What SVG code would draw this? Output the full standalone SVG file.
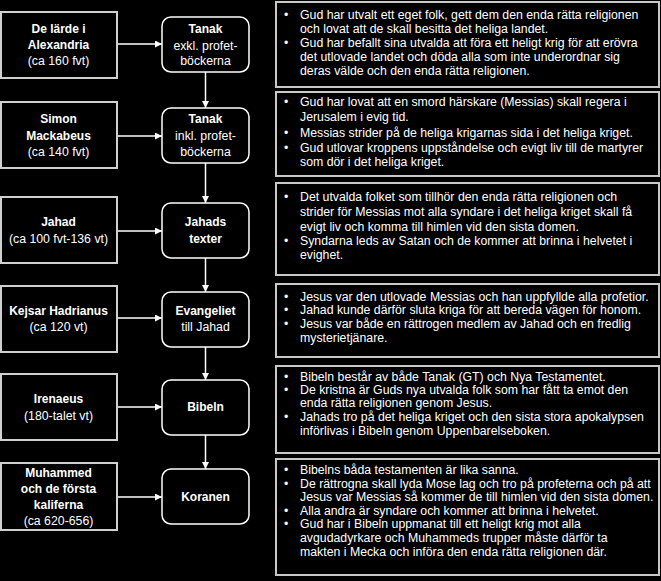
<svg xmlns="http://www.w3.org/2000/svg" width="661" height="581" viewBox="0 0 661 581">
<defs>
<marker id="ah" markerUnits="userSpaceOnUse" markerWidth="8" markerHeight="8" refX="7" refY="3.5" orient="auto">
<path d="M0,0 L7,3.5 L0,7 z" fill="#ffffff"/>
</marker>
<style>
.src{fill:#000;stroke:#d0d0d0;stroke-width:2}
.doc{fill:#000;stroke:#ffffff;stroke-width:1.5}
.info{fill:#000;stroke:#c8c8c8;stroke-width:2}
text{font-family:"Liberation Sans",Arial,sans-serif;fill:#ffffff}
.c{text-anchor:middle;font-size:12.3px}
.b{font-weight:bold;font-size:12px}
.t{font-size:12.3px}
.con{stroke:#ffffff;stroke-width:1.5;fill:none;marker-end:url(#ah)}
</style>
</defs>
<rect width="661" height="581" fill="#000"/>

<g id="connectors">
<line class="con" x1="117" y1="44" x2="162" y2="44"/>
<line class="con" x1="117" y1="136" x2="162" y2="136"/>
<line class="con" x1="117" y1="231" x2="162" y2="231"/>
<line class="con" x1="117" y1="318" x2="162" y2="318"/>
<line class="con" x1="117" y1="407" x2="162" y2="407"/>
<line class="con" x1="117" y1="497" x2="162" y2="497"/>
<line class="con" x1="205.5" y1="72" x2="205.5" y2="108"/>
<line class="con" x1="205.5" y1="163" x2="205.5" y2="203"/>
<line class="con" x1="205.5" y1="258" x2="205.5" y2="292"/>
<line class="con" x1="205.5" y1="347" x2="205.5" y2="380"/>
<line class="con" x1="205.5" y1="435" x2="205.5" y2="469"/>
</g>

<g id="src-alexandria">
<rect class="src" x="1" y="12" width="116" height="66"/>
<text class="c b" x="58.5" y="33">De lärde i</text>
<text class="c b" x="58.5" y="49">Alexandria</text>
<text class="c" x="58.5" y="65">(ca 160 fvt)</text>
</g>
<g id="src-simon">
<rect class="src" x="1" y="102" width="116" height="66"/>
<text class="c b" x="58.5" y="123">Simon</text>
<text class="c b" x="58.5" y="140">Mackabeus</text>
<text class="c" x="58.5" y="156">(ca 140 fvt)</text>
</g>
<g id="src-jahad">
<rect class="src" x="1" y="197" width="116" height="66"/>
<text class="c b" x="58.5" y="226">Jahad</text>
<text class="c" x="58.5" y="243">(ca 100 fvt-136 vt)</text>
</g>
<g id="src-hadrianus">
<rect class="src" x="1" y="286" width="116" height="66"/>
<text class="c b" x="58.5" y="315">Kejsar Hadrianus</text>
<text class="c" x="58.5" y="331">(ca 120 vt)</text>
</g>
<g id="src-irenaeus">
<rect class="src" x="1" y="374" width="116" height="66"/>
<text class="c b" x="58.5" y="403">Irenaeus</text>
<text class="c" x="58.5" y="420">(180-talet vt)</text>
</g>
<g id="src-muhammed">
<rect class="src" x="1" y="463" width="116" height="67"/>
<text class="c b" x="58.5" y="477">Muhammed</text>
<text class="c b" x="58.5" y="493">och de första</text>
<text class="c b" x="58.5" y="509">kaliferna</text>
<text class="c" x="58.5" y="525">(ca 620-656)</text>
</g>

<g id="doc-tanak1">
<rect class="doc" x="162" y="17" width="87" height="55" rx="9"/>
<text class="c b" x="205.5" y="33">Tanak</text>
<text class="c" x="205.5" y="50">exkl. profet-</text>
<text class="c" x="205.5" y="65">böckerna</text>
</g>
<g id="doc-tanak2">
<rect class="doc" x="162" y="108" width="87" height="55" rx="9"/>
<text class="c b" x="205.5" y="123">Tanak</text>
<text class="c" x="205.5" y="140">inkl. profet-</text>
<text class="c" x="205.5" y="156">böckerna</text>
</g>
<g id="doc-jahads">
<rect class="doc" x="162" y="203" width="87" height="55" rx="9"/>
<text class="c b" x="205.5" y="226">Jahads</text>
<text class="c b" x="205.5" y="243">texter</text>
</g>
<g id="doc-evangeliet">
<rect class="doc" x="162" y="292" width="87" height="55" rx="9"/>
<text class="c b" x="205.5" y="315">Evangeliet</text>
<text class="c" x="205.5" y="331">till Jahad</text>
</g>
<g id="doc-bibeln">
<rect class="doc" x="162" y="380" width="87" height="55" rx="9"/>
<text class="c b" x="205.5" y="411">Bibeln</text>
</g>
<g id="doc-koranen">
<rect class="doc" x="162" y="469" width="87" height="55" rx="9"/>
<text class="c b" x="205.5" y="501">Koranen</text>
</g>

<g id="info-1">
<rect class="info" x="276" y="2" width="383" height="85"/>
<text class="t" x="284" y="19">•</text>
<text class="t" x="300" y="19">Gud har utvalt ett eget folk, gett dem den enda rätta religionen</text>
<text class="t" x="300" y="33">och lovat att de skall besitta det heliga landet.</text>
<text class="t" x="284" y="47">•</text>
<text class="t" x="300" y="47">Gud har befallt sina utvalda att föra ett heligt krig för att erövra</text>
<text class="t" x="300" y="61">det utlovade landet och döda alla som inte underordnar sig</text>
<text class="t" x="300" y="75">deras välde och den enda rätta religionen.</text>
</g>
<g id="info-2">
<rect class="info" x="276" y="92" width="383" height="84"/>
<text class="t" x="284" y="106">•</text>
<text class="t" x="300" y="106">Gud har lovat att en smord härskare (Messias) skall regera i</text>
<text class="t" x="300" y="121">Jerusalem i evig tid.</text>
<text class="t" x="284" y="137">•</text>
<text class="t" x="300" y="137">Messias strider på de heliga krigarnas sida i det heliga kriget.</text>
<text class="t" x="284" y="152">•</text>
<text class="t" x="300" y="152">Gud utlovar kroppens uppståndelse och evigt liv till de martyrer</text>
<text class="t" x="300" y="166">som dör i det heliga kriget.</text>
</g>
<g id="info-3">
<rect class="info" x="276" y="183" width="383" height="92"/>
<text class="t" x="284" y="201">•</text>
<text class="t" x="300" y="201">Det utvalda folket som tillhör den enda rätta religionen och</text>
<text class="t" x="300" y="216">strider för Messias mot alla syndare i det heliga kriget skall få</text>
<text class="t" x="300" y="231">evigt liv och komma till himlen vid den sista domen.</text>
<text class="t" x="284" y="245">•</text>
<text class="t" x="300" y="245">Syndarna leds av Satan och de kommer att brinna i helvetet i</text>
<text class="t" x="300" y="259">evighet.</text>
</g>
<g id="info-4">
<rect class="info" x="276" y="284" width="383" height="73"/>
<text class="t" x="284" y="301">•</text>
<text class="t" x="300" y="301">Jesus var den utlovade Messias och han uppfyllde alla profetior.</text>
<text class="t" x="284" y="314">•</text>
<text class="t" x="300" y="314">Jahad kunde därför sluta kriga för att bereda vägen för honom.</text>
<text class="t" x="284" y="328">•</text>
<text class="t" x="300" y="328">Jesus var både en rättrogen medlem av Jahad och en fredlig</text>
<text class="t" x="300" y="342">mysterietjänare.</text>
</g>
<g id="info-5">
<rect class="info" x="276" y="366" width="383" height="87"/>
<text class="t" x="284" y="381">•</text>
<text class="t" x="300" y="381">Bibeln består av både Tanak (GT) och Nya Testamentet.</text>
<text class="t" x="284" y="394">•</text>
<text class="t" x="300" y="394">De kristna är Guds nya utvalda folk som har fått ta emot den</text>
<text class="t" x="300" y="407">enda rätta religionen genom Jesus.</text>
<text class="t" x="284" y="421">•</text>
<text class="t" x="300" y="421">Jahads tro på det heliga kriget och den sista stora apokalypsen</text>
<text class="t" x="300" y="435">införlivas i Bibeln genom Uppenbarelseboken.</text>
</g>
<g id="info-6">
<rect class="info" x="276" y="459" width="383" height="116"/>
<text class="t" x="284" y="474">•</text>
<text class="t" x="300" y="474">Bibelns båda testamenten är lika sanna.</text>
<text class="t" x="284" y="488">•</text>
<text class="t" x="300" y="488">De rättrogna skall lyda Mose lag och tro på profeterna och på att</text>
<text class="t" x="300" y="501">Jesus var Messias så kommer de till himlen vid den sista domen.</text>
<text class="t" x="284" y="515">•</text>
<text class="t" x="300" y="515">Alla andra är syndare och kommer att brinna i helvetet.</text>
<text class="t" x="284" y="528">•</text>
<text class="t" x="300" y="528">Gud har i Bibeln uppmanat till ett heligt krig mot alla</text>
<text class="t" x="300" y="542">avgudadyrkare och Muhammeds trupper måste därför ta</text>
<text class="t" x="300" y="556">makten i Mecka och införa den enda rätta religionen där.</text>
</g>
</svg>
